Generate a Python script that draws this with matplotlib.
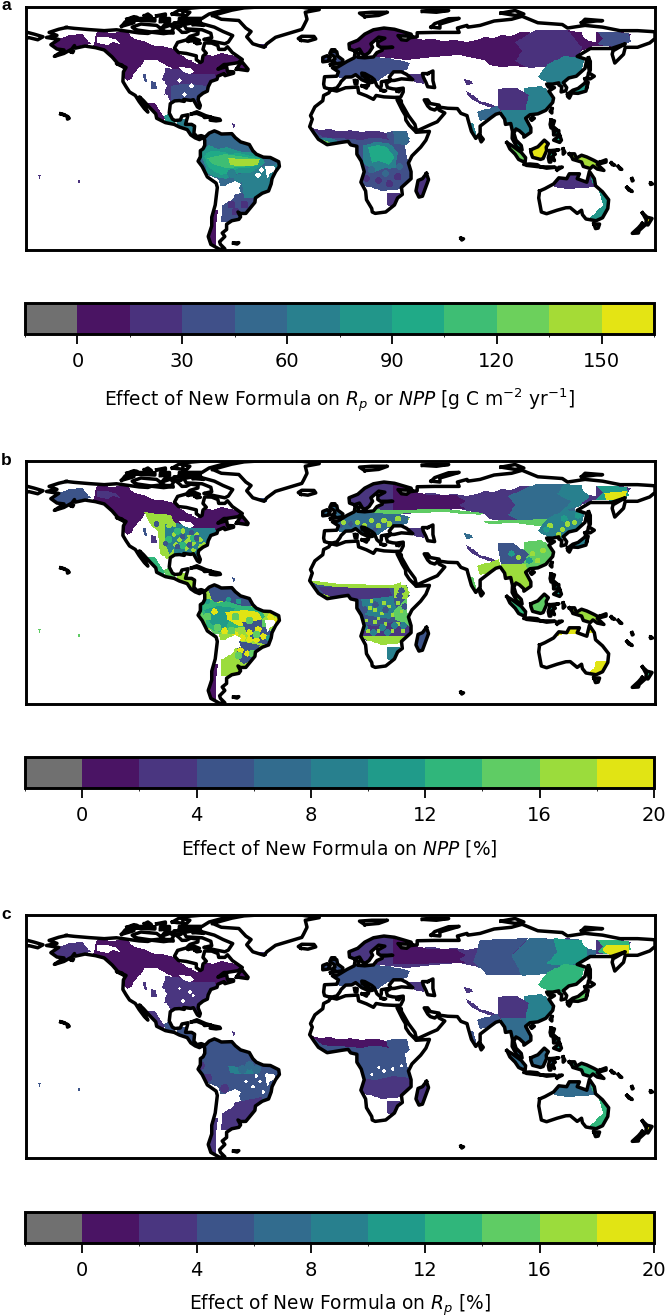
import numpy as np
import matplotlib
matplotlib.use("Agg")
import matplotlib.pyplot as plt
from matplotlib.colors import ListedColormap, BoundaryNorm
from matplotlib.cm import ScalarMappable
from matplotlib.path import Path

W, H = 666, 1316
plt.rcParams['font.family'] = ['DejaVu Sans']

# colorbar levels
levels_a = [-15, 0, 15, 30, 45, 60, 75, 90, 105, 120, 135, 150, 165]
levels_pct = [-2, 0, 2, 4, 6, 8, 10, 12, 14, 16, 18, 20]
ticks_a = [0, 30, 60, 90, 120, 150]
ticks_pct = [0, 4, 8, 12, 16, 20]
colors_a = ['#707070', '#4a1463', '#4a327d', '#405089', '#35698e', '#29808e', '#22968a',
            '#20aa87', '#3ebe74', '#6cd05c', '#a5db36', '#e4e414']
colors_pct = ['#707070', '#4a1464', '#4a3680', '#3c5489', '#326c8e', '#28808e', '#209b8a',
              '#30b67b', '#5fcc64', '#9bdc3c', '#e1e414']

# ---- coastlines, lon/lat ----
america = [(-156.6,71.3),(-152,70.8),(-143.6,70.1),(-135,69.5),(-128,70),(-125,69.6),(-115,68.2),(-110,67.9),(-108,68.6),(-101,67.8),(-97,68.3),(-95.5,68.1),(-96,70),(-94.5,72),(-92,70),(-90.5,68.5),(-88,68.6),(-85.5,69.8),(-81.3,69.2),(-81.4,67.6),(-86,66.2),(-88,64.2),(-93,62.8),(-94.8,59.5),(-92.5,57),(-88,56.5),(-82.3,55.1),(-82.3,52.9),(-80,51.3),(-79,52),(-78.5,55),(-76.6,56.6),(-78.5,58.8),(-77.5,62.5),(-73.5,62.4),(-70,61),(-69.5,58.8),(-66,58.8),(-64.5,60.3),(-61.7,57),(-56,53),(-58.5,51.2),(-65,50.2),(-66.5,50.2),(-70,47.5),(-65,49),(-64.5,46.2),(-61,46),(-61,45.2),(-66,43.8),(-66.5,45),(-70,43.5),(-70.5,41.7),(-74,40.5),(-75.5,37.5),(-76,35),(-78.5,33.8),(-81,31.8),(-81.3,30),(-80,26.8),(-80.5,25.2),(-81.7,26),(-82.8,28),(-84,30.1),(-85.5,29.7),(-89.5,30.2),(-89.2,29.1),(-92,29.6),(-94.7,29.4),(-97.2,27.8),(-97.5,25),(-97.8,22.5),(-96,19),(-94.5,18.2),(-91.5,18.5),(-90.5,20.8),(-87,21.5),(-87.8,18.5),(-88.5,16),(-85,16),(-83.3,15),(-83.7,11),(-82,9),(-79.5,9.6),(-77.3,8.7),(-75,11),(-72,12.3),(-70,11.5),(-68,10.5),(-62,10.7),(-60,8.4),(-57,6),(-52,4.5),(-50,1),(-48,-1),(-44,-2.7),(-40,-2.9),(-35.2,-5.3),(-34.8,-8),(-37,-11),(-39,-15),(-39.5,-18),(-41,-22),(-44.6,-23.3),(-48.5,-26),(-48.8,-28.5),(-52.5,-33),(-54,-34.8),(-57,-34.9),(-58.5,-34),(-57,-36.8),(-58,-38.2),(-62,-39),(-65,-41),(-65,-44),(-67.5,-46),(-66,-48),(-69,-51),(-68.5,-52.5),(-66,-55),(-69,-55.3),(-74,-52.5),(-75.5,-48),(-73.5,-42),(-73.5,-37),(-71.5,-30),(-70.3,-20),(-71,-17.5),(-76,-14),(-79,-8),(-81.3,-5),(-80,-2.5),(-80,1),(-78.5,2),(-77.5,4),(-77.5,7),(-78.5,8.5),(-80.5,7.3),(-83,8.3),(-85.5,10),(-87.5,13),(-92,14.5),(-95,16),(-100,17),(-105,19.5),(-105.5,22),(-109,25.6),(-112.5,29.5),(-114.8,31.7),(-112.5,27.5),(-110,23),(-112,25),(-115,29),(-117.2,32.5),(-120.5,34.5),(-122.5,37.5),(-124.3,40.5),(-124,46),(-122.5,48.5),(-127,50.5),(-130.5,54.5),(-135,58.5),(-140,59.8),(-146,60.7),(-151.5,59.5),(-152,61),(-153.5,59),(-158,56.5),(-163.5,54.8),(-158,58.5),(-162,59),(-165.5,61.5),(-161,64.5),(-168,65.6),(-162,66.8),(-166.5,68.5),(-161,70.3)]
afroeurasia = [(-5.5,36),(-9,37),(-9.5,39),(-9,43.2),(-2,43.5),(-1,46),(-4.5,48.3),(-1.5,48.7),(1.5,50.5),(4,52),(8,54),(8.5,57),(10.8,56.5),(10,54.3),(14,54),(19,54.5),(21,57),(24,58.3),(24,59.5),(30,60),(23,60),(21.5,61),(21.5,63),(25.5,65.2),(22,65.8),(17.5,62),(18.5,60),(16.5,57),(14.3,55.5),(12.8,56),(11,59),(8,58),(5.3,59),(5,62),(10,64),(14,67.5),(19,70),(25,71),(31,70.3),(40.5,67.5),(41,66.3),(35,66.5),(33,66.7),(35,64.3),(38,64),(40,65.5),(44,66),(44,68.3),(54,68.5),(60,68.5),(68,68.5),(67,71),(72.5,72.5),(73,71.5),(80,72.5),(88,75),(98,76),(104,77.7),(113,74),(127,73),(130,71),(140,72.5),(150,71.5),(160,69.5),(170,69.5),(178,69),(180,68.8),(180,65),(177,62.5),(170,60),(163,60),(162,56),(157,51),(155.5,56),(156,58),(163,62),(155,59.3),(143,59.3),(135.5,54.8),(141,53),(140,48),(135,43.5),(130.7,42.5),(127.5,39.8),(129.5,37),(129,35.2),(126.3,34.5),(126.7,37.5),(125,38.5),(125,39.7),(121.5,39),(118,39),(119,37.3),(122.5,37),(119.3,35),(122,31),(121.5,28.5),(117.5,24),(113,22),(108.5,21.5),(106,19.5),(109,14),(109,11.5),(105,8.7),(105,10),(102.5,12.3),(100.5,13.4),(99.3,11),(100.5,7),(103.5,4),(104,1.4),(101,3),(98.3,8),(98.5,12),(97.5,16.5),(94.5,16),(94,19),(91.5,22.5),(89,21.8),(86.5,20),(82,16.5),(80,15),(80,11),(77.5,8),(75,12),(73,19),(72.5,21),(69,22.3),(67,25),(61.5,25.2),(57,25.8),(56.5,27),(51.5,27.9),(50,30),(48,30),(50,26.5),(51.5,25),(54,24.2),(56.3,26),(56.5,24.2),(59.8,22.5),(55.5,17.5),(52,16),(45,12.8),(43.5,12.7),(42.7,16),(39,21),(35,28),(34.9,29.5),(32.5,30),(33.5,28),(35.5,24),(37.3,21),(37.5,18.5),(39.5,15.5),(43,12),(43.3,11.5),(51,12),(49,7),(46,3),(41,-2),(39,-6),(40.5,-11),(40.5,-15),(35,-20),(35.5,-24),(32.8,-26),(31,-30),(26,-34),(20,-34.8),(18.3,-34),(18,-32),(15,-27),(14.5,-22),(11.8,-17),(13.7,-11),(12,-5),(9.5,-1),(9.5,3.5),(6,4.3),(4.5,6.3),(1,5.8),(-4,5),(-7.5,4.4),(-12.5,7.5),(-15,11),(-17.5,14.7),(-16,19),(-17,21),(-14.5,26),(-10,29.5),(-9.5,32.5),(-6.5,34),(-5.5,35.8),(-2,35),(3,36.9),(10,37.3),(10.5,34),(15,32.3),(19,30.3),(20.5,32.5),(25,31.7),(31,31.4),(34.5,31.5),(36,34.5),(36,36.7),(32,36.1),(30,36.3),(27,37),(26.3,39.5),(29,41),(31,41.1),(35,42),(41.5,41.5),(38,44.5),(35,46),(33,46),(30.5,46),(28,43),(29,41.2),(26,40.8),(23.5,40.3),(23.5,38),(22.8,36.5),(21,38),(19.5,41.5),(18,42.8),(14,45),(12.3,45.3),(12.5,44),(16,41.7),(18.5,40),(16.5,39.8),(16,38),(15.8,40),(12.3,41.5),(8.8,44.4),(6.5,43.1),(3.1,43),(0.5,40.5),(-0.3,39),(-2,36.8)]
chukotka = [(-180,68.8),(-175,67.5),(-170,66),(-173,64.3),(-178,65.5),(-180,65)]
caspian = [(50,45),(53,46.5),(53,41),(54,37),(50,37.5),(49,40),(47.5,43),(47,45)]
islands = [
    [(-80,73.7),(-72,71.5),(-67,69),(-61.5,66.7),(-64,63),(-66,62),(-71,63),(-78,64.5),(-73.5,65.5),(-74,68),(-79,70),(-88,70.5),(-89.5,73),(-85,73.8)],
    [(-117,70),(-108,68.7),(-101,69.5),(-105,72.5),(-114,73.3),(-119,71.5)],
    [(-125,72),(-118,74),(-118,76),(-123,74.5)],
    [(-90,76.5),(-79,76.5),(-75,79),(-62,82.5),(-72,83.5),(-90,82)],
    [(-96,79),(-88,78),(-86,80),(-92,81.3)],
    [(-92,74.5),(-80,74.7),(-80,75.7),(-92,76.5)],
    [(-117,75.5),(-106,75),(-106,76.3),(-117,76.5)],
    [(-122,76),(-116,77),(-118,77.5)],
    [(-103,75),(-98,75),(-98,76.5),(-103,76.5)],
    [(-105,78),(-100,78),(-100,79)],
    [(-112,78),(-108,77.5),(-110,79)],
    [(-102,71),(-96,73),(-100,73.5)],
    [(-96,72),(-91,72),(-90,74),(-95,74)],
    [(-100,69),(-96,69),(-97,68.3)],
    [(-84,73),(-78,72.5),(-80,73.5)],
    [(-87,63.5),(-80.5,64),(-85,65.7)],
    [(-83,62.8),(-80,62.3),(-82,62)],
    [(-73,78.2),(-68,76),(-58,75.3),(-54,71),(-51,69),(-53.5,66),(-50,62),(-43.5,60),(-42,62),(-37,65.7),(-22,70.2),(-21,72),(-19,76),(-20,80),(-12,81.5),(-30,84),(-55,82.5),(-62,81.2)],
    [(-22.5,64),(-18.5,63.5),(-14,64.8),(-15,66.2),(-22,66.3),(-24,65)],
    [(-5.5,50),(1.3,51.2),(1.5,52.8),(-1.5,55),(-2,57.5),(-4,57.7),(-3,58.6),(-5,58.6),(-6,56.5),(-3.5,54.8),(-3,53.4),(-5,52),(-3,51.4)],
    [(-6.2,53.5),(-6.3,52.2),(-10,51.7),(-10,54.2),(-7.5,55.2),(-5.8,54.5)],
    [(14,77.5),(22,78.2),(27,80),(18,80),(11,79.5)],
    [(47,80.5),(55,80),(62,81),(52,81.2)],
    [(52,71.5),(57,71),(57,73.3),(68,76.5),(62,76.3),(54,73.5)],
    [(92,79.5),(100,78.2),(105,79),(100,81)],
    [(138,74),(146,75),(150,75.2),(140,76)],
    [(-59.3,47.6),(-53,46.7),(-52.7,47.5),(-56,51.5),(-57.5,50.5)],
    [(-123.5,48.5),(-128,50.7),(-125,50)],
    [(-154,57.5),(-152.5,58),(-153,57)],
    [(-85,22),(-82,23.2),(-77,21),(-74.2,20.2),(-77.7,19.9),(-78,20.7),(-82,22.3)],
    [(-73.5,19.9),(-69,19),(-68.5,18.3),(-71,18),(-74.4,18.4)],
    [(-156,20.4),(-155,19.5),(-156,19)],
    [(-159.8,22),(-158,21.6),(-157,21)],
    [(-61,-51.8),(-58,-51.5),(-59,-52.3)],
    [(69,-49),(70.5,-49.3),(69.5,-50)],
    [(142,54),(143,52),(143,47),(142.5,46),(142,49)],
    [(140,42),(143,42),(145.3,43.5),(142,45.5),(141.5,43)],
    [(141,37),(140.5,35),(136,33.7),(131,34),(133,35.5),(136,36.5),(139.8,39.5),(140.5,41),(141.8,40)],
    [(130,33.5),(132,33),(131,31),(130,32)],
    [(121,25),(121,22.5),(120,23.5)],
    [(110,20),(111,19.5),(109.5,18.3),(108.7,19.3)],
    [(120.5,18.5),(122.5,18),(121.5,15),(124,12.8),(120.5,14),(120,16)],
    [(125.5,9.7),(126.5,7),(125.5,5.7),(122,7)],
    [(122,12),(125,12.5),(125,10),(122,10)],
    [(109,1.5),(111.3,2.5),(113,3.2),(116.7,7),(119,5),(117.8,3),(118,1),(116,-3.5),(114.5,-4),(110,-2.8),(109,0)],
    [(95.3,5.6),(98,4),(103.5,0),(106,-3),(105.7,-5.8),(102,-4),(100,-1),(97,2)],
    [(105.3,-6.8),(108.5,-6.6),(112.7,-7),(114.5,-8.3),(106.5,-7.4)],
    [(120,1),(125,1.5),(121,0.4),(123,-1),(121.5,-2),(122.5,-4.7),(120.5,-3),(120.4,-5.5),(119.5,-5.5),(119,-3),(119.8,0)],
    [(115,-8.3),(120,-8.3),(123,-8.5),(118,-9)],
    [(124,-10),(127,-8.4),(125,-8.5)],
    [(127.5,2),(128.5,0),(127.5,-1)],
    [(131,-0.8),(134,-0.8),(135,-3.3),(138,-1.6),(141,-2.6),(145,-4.5),(147.8,-6),(147,-6.8),(150.8,-10.3),(147,-9.5),(144.5,-7.7),(143,-9.2),(139,-8),(138,-5.5),(133,-4),(132.5,-2.8)],
    [(148.3,-5.6),(152,-4.2),(152,-5.5),(149,-6.3)],
    [(155,-6),(157,-7.3),(155.5,-7)],
    [(159,-8),(161,-9.7),(160,-9.5)],
    [(166.8,-15),(167.5,-16),(167,-16.3)],
    [(164,-20),(167,-22.3),(165,-21.5)],
    [(177.5,-17.5),(178.6,-18),(177.5,-18.3)],
    [(114,-22),(113.5,-26),(115,-34),(118,-35),(124,-33),(129,-31.6),(131.5,-31.5),(135.5,-34.8),(138,-33),(138.5,-35.5),(140.5,-38),(146.3,-39),(150,-37.3),(153,-32),(153.5,-27),(150,-22.5),(146,-19),(145.3,-15),(142.5,-10.8),(141,-17),(135.5,-15),(136.8,-12.2),(131,-12.2),(129.5,-15),(125,-14.5),(122,-18),(117,-20.7)],
    [(145,-40.8),(148.3,-40.9),(147.5,-43.2),(146,-43.5)],
    [(172.8,-34.5),(175.5,-37),(178.3,-37.7),(176,-41.4),(174.7,-41.2),(175,-38.5)],
    [(172.7,-40.5),(174,-41.8),(171,-44.5),(170.5,-46),(167,-46.2),(170.5,-43)],
    [(49.3,-12),(50.5,-15.5),(47,-25),(45,-25.5),(43.3,-22),(44.5,-16),(47,-15)],
    [(80,9.7),(81.8,7.5),(80.6,6),(79.8,8)],
    [(12.5,38),(15.5,38.2),(15,36.7)],
    [(8.2,41),(9.7,41),(9.5,39),(8.5,39)],
    [(23.5,35.5),(26,35.2),(24.5,35)],
    [(32.5,35),(34.5,35.6),(33.5,34.6)],
]
# tiny islets carrying colour but no coast line
islets = [[(-173,-13),(-171,-13),(-172,-16)], [(-150,-16),(-149,-16),(-149.5,-19)],
          [(-62,17),(-60,16),(-60.5,13),(-61.5,14)], [(-44,61),(-42,61),(-42,59.5)]]

# ---- shared vegetation outlines ----
ALASKA = [(-168,66),(-161,65),(-155,67),(-147,67.5),(-145,64),(-142,62),(-150,61),(-152,56),(-168,58)]
CANADA = [(-139,69),(-131,68),(-122,69),(-119,66),(-116,64),(-112,63.5),(-108,61.5),(-102,60.5),(-95,59),(-92,56),(-82,50.5),(-79,52.5),(-77,56),(-73,55),(-68,56.5),(-60,55),(-52,52),(-52,46),(-65,43),(-71,42),(-78,43),(-82,44),(-89,45.5),(-95,46),(-98,49),(-101,50.5),(-106,53),(-112,52.5),(-115,48),(-118,45),(-119,42),(-122,41),(-126,46),(-135,56),(-142,59)]
YUKON_GAP = [(-139,66),(-133,66),(-128,64.5),(-126,62),(-130,63),(-133,61.5),(-139,62.5)]
SPOT1 = [(-113,44.5),(-111,44.5),(-110.5,40),(-112.5,40.5)]
SPOT2 = [(-108.5,40.5),(-105.5,40),(-105,36),(-108,36)]
US_EAST = [(-100,48),(-90,47),(-84,45),(-72,45),(-70,41),(-75,36),(-80,25),(-84,28),(-90,29),(-97,27),(-98,31),(-101,33),(-99,38),(-102,42)]
US_SE = [(-97,38),(-91,39),(-85,39),(-76,38),(-79,30),(-90,29),(-97,28)]
LAKES = [(-92,48.5),(-86,48),(-83,46),(-86,45),(-90,46)]
MEX_W = [(-110,28),(-106,28),(-100,19),(-104,18),(-108,22)]
MEX_S = [(-101,21),(-96,23),(-94,15),(-100,15)]
C_AMERICA = [(-94,19),(-88,19),(-83,15),(-82,8),(-87,11),(-93,14)]
SA_ALL = [(-82,13),(-60,12),(-48,2),(-33,-5),(-34,-12),(-40,-25),(-50,-34),(-58,-39),(-66,-39),(-66,-28),(-70,-15),(-76,-13),(-81,-5)]
SA_SOUTH = [(-67,-25),(-45,-21),(-47,-28),(-52,-35),(-58,-40),(-68,-40)]
CHACO = [(-66,-19),(-63,-17.5),(-60,-16.5),(-57,-18),(-58,-20),(-57,-23),(-60,-24),(-62,-27),(-67,-30),(-72,-30),(-72,-19)]
NE_BRAZIL = [(-43,-8),(-38,-7.5),(-36.5,-12),(-39,-11),(-42,-15)]
AMZ_OUT = [(-80,0),(-75,4),(-70,2),(-65,3),(-58,1),(-52,0),(-45,-2),(-43,-6),(-47,-9),(-52,-12),(-58,-12),(-65,-15),(-72,-14),(-76,-12)]
AMZ_MID = [(-78,-2),(-74,1),(-70,1),(-63,-1),(-58,-0.5),(-46,-3),(-47,-7),(-52,-9),(-58,-9),(-63,-12),(-68,-13),(-75,-9)]
AMZ_IN = [(-76,-3),(-66,-1),(-58,-2),(-47,-3.5),(-47,-7),(-56,-8.5),(-66,-9),(-74,-6)]
AMZ_CORE = [(-64,-3),(-56,-3.5),(-46,-3.5),(-47,-7),(-56,-8),(-63,-7)]
AMZ_CORE_B = [(-66,-3),(-55,-2),(-47,-3),(-45,-7),(-50,-11),(-58,-11),(-64,-8)]
BR_E = [(-57,-10),(-42,-8),(-35,-6),(-35,-10),(-41,-22),(-48,-26),(-55,-26)]
CHILE = [(-75,-33),(-70,-33),(-71,-42),(-71,-56),(-76,-56),(-76,-40)]
AFRICA = [(-18,14.5),(-12,13),(-6,13.5),(0,12),(6,13),(12,11.5),(20,12.5),(26,11),(32,12.5),(38,12),(40,6),(37,4),(38,-3),(41,-12),(41,-17),(36,-21),(30,-21),(24,-22),(17,-20),(11,-18),(8,-5),(8,5),(-10,3)]
SAHEL_N = [(-18,14.5),(-12,13),(-6,13.5),(0,12),(6,13),(12,11.5),(20,12.5),(26,11),(28,7),(20,8.5),(12,7),(0,8),(-10,9)]
GUINEA = [(-13,9),(-6,8),(-2,7),(-2,4),(-8,4),(-13,6)]
GUINEA_CORE = [(-10,7),(-6,6),(-6,4),(-9,4)]
CONGO = [(13,4),(20,6),(28,5.5),(33,0),(32,-6),(32,-10),(26,-9),(20,-11),(13,-6)]
CONGO_CORE = [(16,3),(22,4),(27,3),(31,-3),(28,-7),(22,-5),(18,-6)]
MIOMBO = [(10,-10),(20,-11),(30,-9),(40,-10),(41,-17),(36,-21),(24,-22),(17,-20),(11,-18)]
E_AFRICA = [(30,12),(37,12.5),(40,8),(38,4.5),(31,5)]
SE_AFRICA = [(27,-23),(34,-23),(34,-28),(30,-31.5),(27,-30)]
BOREAL = [(4,61),(6,63),(12,67),(16,69),(22,70.5),(28,71),(33,70),(38,67),(42,66),(47,64),(52,65),(58,63.5),(66,64),(72,63),(78,64),(82,66),(88,65.5),(92,67),(98,66.5),(104,69),(110,68),(116,70),(124,69),(130,70),(138,68.5),(142,69),(150,68),(158,69),(166,67.5),(163,63),(156,60),(146,61),(138,58),(132,55),(124,53),(120,50),(114,50),(108,48.5),(100,49.5),(92,49),(85,50),(82,53),(76,54),(68,55.5),(60,55),(48,54),(38,53),(28,54),(18,55),(8,56)]
E_SIB = [(112,70),(130,70),(138,60),(135,50),(108,48),(100,52),(104,58),(100,63)]
FAR_EAST = [(147,69),(165,68),(166,63),(156,60),(147,62),(150,65)]
FE_GAP = [(138,70),(147,70),(146,63),(142,63.5),(139,66)]
EUROPE = [(-6,44),(-5,49),(0,51),(8,55),(28,54),(40,51),(38,47),(28,45),(20,40),(15,41),(8,44),(2,42)]
BRITISH = [(-11,50),(2,50),(2,59),(-11,59)]
CAUCASUS = [(38,45),(48,45),(48,39),(42,40)]
ARC = [(72,35),(74,34),(80,29.5),(90,26),(90,24.5),(80,27.5),(73,32)]
TARIM = [(71,42),(75,41),(76,39),(72,38.5)]
GANGES = [(78,23),(91,27),(92,22),(85,19),(80,18)]
GHATS = [(73,17),(76,17),(78,9),(76,8)]
CHINA_W = [(90,36),(100,37),(108,33),(106,24),(100,20),(92,23),(90,27)]
CHINA_E = [(105,37),(115,38),(123,32),(122,27),(110,20),(104,22)]
SE_ASIA = [(92,24),(106,24),(110,16),(106,8),(100,9),(100,6),(98,8),(96,14),(92,20)]
NE_CHINA = [(113,43),(118,50),(128,55),(140,54),(138,46),(131,41),(124,37),(118,40)]
JAPAN = [(128,30),(147,46),(147,30)]
SAKHALIN = [(140.5,45),(145,45),(145,55),(140.5,55)]
MALAYA = [(98,12),(105,8),(105,0),(98,3)]
SUMATRA = [(94,7),(108,0),(107,-7),(100,-5),(94,2)]
BORNEO = [(108,3),(118,8),(120,0),(115,-5),(108,-3)]
SULAWESI = [(118.5,2),(126,2),(126,-7),(118.5,-7)]
JAVA = [(105,-6),(125,-7),(128,-10.5),(105,-9)]
PHILIP = [(119,19),(127,19),(127,5),(119,5)]
PAPUA = [(130,0),(152,-3),(152,-11),(130,-6)]
AUS_N = [(122,-16),(128,-13),(145,-10),(146,-20),(130,-21),(122,-20)]
AUS_E = [(143,-11),(147,-15),(154,-25),(154,-33),(151,-38),(146,-39.5),(141,-39),(145,-35.5),(150,-30),(148,-22),(144,-17)]
TASMANIA = [(144,-40),(149,-40),(149,-44),(144,-44)]
NZ = [(165,-33),(179,-33),(179,-47),(165,-47)]
MADAGASCAR = [(42,-11),(51,-11),(51,-26),(42,-26)]
ISLETS = [(-180,-25),(-140,-25),(-140,-8),(-180,-8)]
ANTILLES = [(-64,18),(-59,18),(-59,12),(-64,12)]
GREEN_TIP = [(-47,62),(-40,62),(-40,59),(-47,59)]

# panel b outlines
PLAINS = [(-112,54),(-97,52),(-94,47),(-95,30),(-99,27),(-103,30),(-104,42),(-109,47)]
PRAIRIE_W = [(-100,47),(-93,45),(-92,35),(-98,30),(-100,36)]
SA_RIM = [(-82,9),(-77,4),(-72,0),(-68,-16),(-72,-16),(-81,-5)]
SA_NORTH = [(-76,11),(-62,11),(-50,5),(-50,0),(-60,1),(-68,3),(-73,2)]
BR_BLUE = [(-56,-9),(-45,-8),(-38,-16),(-42,-22),(-50,-20),(-54,-14)]
PARANA = [(-58,-20),(-46,-22),(-49,-30),(-55,-33),(-60,-30)]
PAMPA = [(-68,-28),(-58,-30),(-56,-35),(-62,-40),(-68,-40)]
AMZ_WEST = [(-78,-2),(-70,0),(-60,-1),(-62,-6),(-66,-13),(-74,-10)]
AF_RIM = [(-18,15),(0,13),(30,12.5),(35,14),(34,11),(28,10.5),(0,10.8),(-12,12)]
AF_BAND = [(-12,11),(0,10.8),(28,10.5),(30,5),(12,4),(-8,4)]
AF_TEAL = [(12,4),(30,6),(33,-4),(28,-7),(14,-5)]
AF_SOUTH_RIM = [(11,-17),(41,-17),(36,-21),(24,-22),(17,-20)]
AF_E_RIM = [(30,-3),(38,5),(38,-3),(41,-12),(37,-10),(32,-8)]
SIB_RIM_W = [(2,55),(28,53),(60,54),(80,52),(82,53.5),(60,55.5),(28,55),(8,56)]
SIB_RIM_E = [(80,49),(120,50),(126,47),(113,46),(100,47.5),(85,47)]
SIB_W = [(30,70),(42,66),(50,63.5),(66,63.5),(72,60),(68,58),(72,55.5),(30,55)]
SIB_MID = [(112,70),(128,70),(138,60),(130,50),(105,48),(96,52),(100,58),(96,63)]
SIB_E = [(128,70),(142,69),(142,62),(136,57),(126,54),(132,60),(124,64)]
KOLYMA = [(146,69),(164,68),(165,63),(156,60),(146,61),(150,65)]
KOLYMA_IN = [(151,65),(164,66),(163,61.5),(152,61)]
CH_IN = [(90,36),(99,36),(108,30),(104,24),(98,22),(92,24)]
AUS_RIM_N = [(122,-14),(128,-12),(145,-10),(146,-15),(130,-15.5),(122,-17.5)]
AUS_RIM_E = [(146,-31),(154,-31),(152,-38),(146,-39.5),(141,-39),(145,-35.5)]
# panel c outlines
SIB_C_MID = [(80,69),(108,70),(98,60),(104,49),(84,49),(76,56)]
SIB_EAST_C = [(108,70),(146,69),(146,58),(120,50),(104,48),(98,60)]
SIB_NE_C = [(122,70),(141,68),(141,56),(128,54),(118,55),(124,62)]
KOLYMA_C = [(152,66),(165,66),(165,61),(154,60),(150,63)]

# values in each panel's own unit: later entries paint over earlier ones, nan clears
regions_a = [
    (8, ALASKA), (8, CANADA), (np.nan, YUKON_GAP), (35, SPOT1), (35, SPOT2),
    (22, US_EAST), (37, US_SE), (np.nan, LAKES), (10, MEX_W), (80, MEX_S), (70, C_AMERICA),
    (52, SA_ALL), (35, SA_SOUTH), (62, BR_E), (np.nan, CHACO), (np.nan, NE_BRAZIL),
    (80, AMZ_OUT), (100, AMZ_MID), (115, AMZ_IN), (137, AMZ_CORE), (10, CHILE),
    (37, AFRICA), (20, SAHEL_N), (62, GUINEA), (130, GUINEA_CORE), (60, CONGO), (100, CONGO_CORE),
    (35, MIOMBO), (47, E_AFRICA), (20, SE_AFRICA), (20, MADAGASCAR),
    (37, EUROPE), (32, BRITISH), (8, BOREAL), (22, E_SIB), (37, FAR_EAST), (np.nan, FE_GAP),
    (20, CAUCASUS), (20, ARC), (20, TARIM), (55, GANGES), (70, GHATS),
    (72, CHINA_E), (15, CHINA_W), (62, SE_ASIA), (70, NE_CHINA), (85, JAPAN), (60, SAKHALIN),
    (90, MALAYA), (120, SUMATRA), (155, BORNEO), (100, SULAWESI), (60, JAVA), (90, PHILIP), (142, PAPUA),
    (25, AUS_N), (85, AUS_E), (60, TASMANIA), (150, NZ),
    (22, ISLETS), (20, ANTILLES), (20, GREEN_TIP),
]
regions_b = [
    (5, ALASKA), (1, CANADA), (3, YUKON_GAP), (5, SPOT1), (3, SPOT2),
    (9, US_EAST), (17, PLAINS), (8, PRAIRIE_W), (np.nan, LAKES), (13, MEX_W), (15, MEX_S), (17, C_AMERICA),
    (17, SA_ALL), (5, SA_NORTH), (15, SA_RIM), (13, AMZ_OUT), (11, AMZ_WEST), (19, AMZ_CORE_B),
    (5, BR_BLUE), (5, PARANA), (17, PAMPA), (np.nan, CHACO), (np.nan, NE_BRAZIL), (1, CHILE),
    (5, AFRICA), (17, AF_RIM), (3, AF_BAND), (17, GUINEA_CORE), (9, AF_TEAL), (3, MIOMBO),
    (17, AF_SOUTH_RIM), (15, AF_E_RIM), (17, E_AFRICA), (9, SE_AFRICA), (5, MADAGASCAR),
    (7, EUROPE), (7, BRITISH), (3, BOREAL), (1, SIB_W), (7, SIB_MID), (9, SIB_E), (11, KOLYMA), (19, KOLYMA_IN),
    (np.nan, FE_GAP), (15, SIB_RIM_W), (15, SIB_RIM_E),
    (3, CAUCASUS), (3, ARC), (7, TARIM), (17, GANGES), (15, GHATS),
    (15, CHINA_E), (5, CH_IN), (17, SE_ASIA), (9, NE_CHINA), (9, JAPAN), (13, SAKHALIN),
    (15, MALAYA), (13, SUMATRA), (15, BORNEO), (11, SULAWESI), (13, JAVA), (11, PHILIP), (17, PAPUA),
    (19, AUS_RIM_N), (19, AUS_RIM_E), (9, TASMANIA), (13, NZ),
    (15, ISLETS), (5, ANTILLES), (5, GREEN_TIP),
]
regions_c = [
    (3, ALASKA), (1, CANADA), (np.nan, YUKON_GAP), (3, SPOT1), (3, SPOT2),
    (3, US_EAST), (np.nan, LAKES), (3, MEX_W), (5, MEX_S), (5, C_AMERICA),
    (5, SA_ALL), (3, SA_SOUTH), (np.nan, CHACO), (np.nan, NE_BRAZIL), (9, AMZ_CORE), (3, CHILE),
    (5, AFRICA), (1, SAHEL_N), (3, MIOMBO), (3, SE_AFRICA), (3, MADAGASCAR),
    (5, EUROPE), (5, BRITISH), (3, BOREAL), (1, SIB_W), (5, SIB_C_MID), (7, SIB_EAST_C), (11, SIB_NE_C), (13, FAR_EAST), (19, KOLYMA_C),
    (np.nan, FE_GAP), (3, CAUCASUS), (3, ARC), (3, TARIM), (5, GANGES), (5, GHATS),
    (9, CHINA_E), (3, CHINA_W), (7, SE_ASIA), (13, NE_CHINA), (15, JAPAN), (19, SAKHALIN),
    (7, MALAYA), (7, SUMATRA), (7, BORNEO), (7, SULAWESI), (9, JAVA), (11, PHILIP), (13, PAPUA),
    (7, AUS_N), (13, AUS_E), (9, TASMANIA), (19, NZ),
    (5, ISLETS), (3, ANTILLES), (3, GREEN_TIP),
]
# mottling: value, radius in degrees, centres
spots_a = [
    (np.nan, 1.3, [(-92,41),(-85,38),(-89,33),(-100,32),(-47,-13),(-45,-10),(-40,-10)]),
    (70, 2.5, [(-58,-15),(-50,-17),(-45,-20),(-62,-12)]),
    (22, 2.2, [(-60,-34),(-55,-30),(-62,-30)]),
    (22, 2.0, [(15,-15),(22,-16),(33,-14),(28,-18)]),
    (50, 2.0, [(18,-10),(26,-12),(34,-8)]),
]
spots_b = [
    (19, 1.8, [(-72,-3),(-66,-14),(-60,-16),(-52,-15),(-47,-13),(-44,-17),(-48,-19),(-52,-19),(-56,-18),(-40,-6),(-37,-8),(-46,-26),(-53,-27),(-57,-25)]),
    (15, 2.2, [(-76,-6),(-70,-12),(-62,-14),(-43,-10),(-48,-16),(-58,-28),(-50,-27),(-60,-6),(-52,-8)]),
    (11, 1.6, [(-76,3),(-64,4),(-58,3),(-80,-1),(-38,-14),(-41,-18)]),
    (17, 1.3, [(-98,46),(-90,43),(-86,40),(-92,38),(-84,36),(-88,33),(-80,38),(-95,41),(-78,35),(-84,32),(-89,36),(-82,41),(-87,37.5),(-94,35),(-80,34)]),
    (13, 2.0, [(-90,35),(-84,39),(-93,43),(-98,38)]),
    (5, 1.6, [(-85,42),(-90,40),(-86,35),(-82,39),(-93,34),(-105,47),(-100,36)]),
    (17, 1.2, [(20,-2),(24,-4),(28,0),(17,-1),(25,2),(30,-5),(15,-8),(20,-9),(26,-10),(33,-10),(36,-14),(30,-14),(22,-14),(16,-14),(35,-3),(33,2),(18,3),(22,-7)]),
    (9, 2.0, [(14,-12),(24,-12),(31,-11),(19,-15),(27,-15),(36,-11)]),
    (5, 1.8, [(26,-2),(20,1),(14,-2),(34,6),(37,0),(35,9)]),
    (17, 1.6, [(2,48),(10,48),(18,49),(25,49),(33,50),(40,49),(14,46),(22,46),(28,47),(120,46),(127,44),(130,47),(125,41),(134,48),(110,30),(113,26),(102,28),(116,32)]),
    (11, 1.8, [(118,44),(128,50),(136,52),(108,26),(98,30)]),
    (5, 1.3, [(12,45),(20,44),(6,47),(0,46)]),
]
spots_c = [
    (np.nan, 1.0, [(-92,41),(-86,39),(-84,37),(-90,34),(-100,32),(-46,-12),(-50,-15),(-42,-8),(-44,-18),(-54,-12),(-48,-9),(25,-6),(30,-5),(22,-4),(35,-3),(18,-8)]),
    (7, 2.5, [(-52,-3),(-48,-5),(-56,-5)]),
    (3, 2.5, [(-76,-10),(-66,-16),(-80,-3)]),
]

LON = np.arange(-180, 180, 0.5) + 0.25
LAT = np.arange(-56, 84, 0.5) + 0.25


def paint(regions, spots=()):
    lon2, lat2 = np.meshgrid(LON, LAT)
    pts = np.column_stack([lon2.ravel(), lat2.ravel()])
    land = np.zeros(len(pts), bool)
    for poly in [america, afroeurasia, chukotka] + islands + islets:
        land |= Path(poly).contains_points(pts)
    land &= ~Path(caspian).contains_points(pts)
    grid = np.full(len(pts), np.nan)
    for value, poly in regions:
        grid[Path(poly).contains_points(pts)] = value
    for value, radius, centres in spots:
        for x, y in centres:
            hit = (pts[:, 0] - x)**2 + (pts[:, 1] - y)**2 < radius**2
            hit &= ~np.isnan(grid)
            grid[hit] = value
    grid[~land] = np.nan
    return grid.reshape(lon2.shape)


def px_axes(fig, x0, y0, x1, y1):
    return fig.add_axes([x0 / W, 1 - y1 / H, (x1 - x0) / W, (y1 - y0) / H])


def draw_panel(fig, letter, top, field, levels, colors, ticks, label, cbar_top, letter_y, labelpad):
    cmap = ListedColormap(colors)
    norm = BoundaryNorm(levels, cmap.N)

    ax = px_axes(fig, 25.5, top, 655, top + 243)
    ax.pcolormesh(LON, LAT, field, cmap=cmap, norm=norm, shading='nearest', rasterized=True)
    for poly in [america, afroeurasia, chukotka, caspian] + islands:
        pts = np.array(poly + poly[:1])
        ax.plot(pts[:, 0], pts[:, 1], color='black', lw=2.5, solid_joinstyle='round')
    ax.set_xlim(-180, 180)
    ax.set_ylim(-55.7, 83)
    ax.set_xticks([])
    ax.set_yticks([])
    for s in ax.spines.values():
        s.set_linewidth(2.1)

    cax = px_axes(fig, 25, cbar_top, 654, cbar_top + 30.5)
    cb = fig.colorbar(ScalarMappable(norm=norm, cmap=cmap), cax=cax, orientation='horizontal',
                      boundaries=levels, ticks=ticks, spacing='proportional', drawedges=False)
    cb.outline.set_linewidth(2.1)
    cb.ax.tick_params(labelsize=14, length=7.5, width=1.3, pad=6)
    cb.set_label(label, fontsize=13.4, labelpad=labelpad)

    fig.text(1 / W, 1 - letter_y / H, letter, fontsize=12.5, fontweight='bold',
             family='Liberation Sans', va='baseline')


fig = plt.figure(figsize=(W / 100, H / 100), dpi=100)
draw_panel(fig, 'a', 7, paint(regions_a, spots_a), levels_a, colors_a, ticks_a,
           r'Effect of New Formula on $R_p$ or $NPP$ [g C m$^{-2}$ yr$^{-1}$]', 303, 10, 11)
draw_panel(fig, 'b', 461, paint(regions_b, spots_b), levels_pct, colors_pct, ticks_pct,
           r'Effect of New Formula on $NPP$ [%]', 757, 465, 9.5)
draw_panel(fig, 'c', 915, paint(regions_c, spots_c), levels_pct, colors_pct, ticks_pct,
           r'Effect of New Formula on $R_p$ [%]', 1212, 919, 8.5)
fig.savefig('out.png', dpi=100)
